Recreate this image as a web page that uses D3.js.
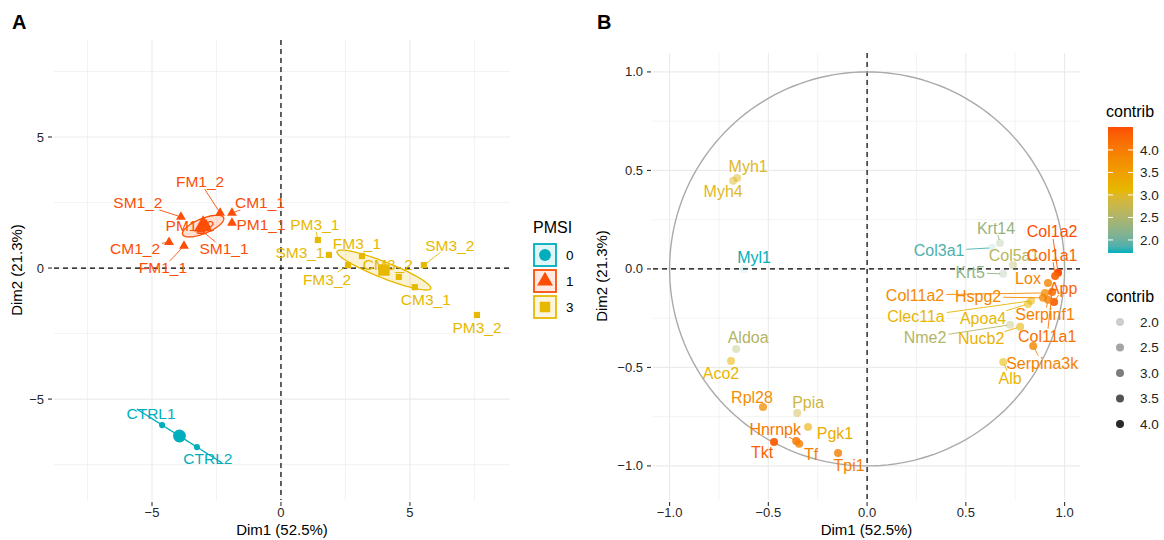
<!DOCTYPE html>
<html>
<head>
<meta charset="utf-8">
<title>PCA individuals / variables</title>
<script src="https://cdn.jsdelivr.net/npm/d3@7"></script>
<style>
body{margin:0;background:#fff;font-family:"Liberation Sans",Arial,Helvetica,sans-serif}
</style>
</head>
<body>
<svg id=chart width=1164 height=540></svg>
<script>
// ---- panel A : individuals ----
var sampleNames=["CTRL1","CTRL2","FM1_1","FM1_2","CM1_1","CM1_2","PM1_1","PM1_2","SM1_1","SM1_2",
                 "PM3_1","SM3_1","FM3_1","FM3_2","CM3_2","CM3_1","SM3_2","PM3_2"]
var sampleGroup=["0","0","1","1","1","1","1","1","1","1","3","3","3","3","3","3","3","3"]
var sampleDim1=[-4.61,-3.26,-3.76,-2.36,-1.90,-4.34,-1.90,-2.90,-3.10,-3.88,
                1.43,1.86,3.14,2.60,4.57,5.19,5.54,7.60]
var sampleDim2=[-5.99,-6.83,0.84,2.10,2.10,0.99,1.72,1.65,1.45,1.95,
                1.07,0.50,0.46,0.11,-0.34,-0.73,0.11,-1.79]
var groupLevels=["0","1","3"]
var ticksA=[-5,0,5]
var minorA=[-7.5,-2.5,2.5,7.5]

// ---- panel B : variables ----
var varNames=["Myh1","Myh4","Myl1","Aldoa","Aco2","Rpl28","Ppia","Pgk1","Hnrnpk","Tf","Tkt","Tpi1",
              "Krt14","Col3a1","Col5a1","Krt5","Col1a2","Col1a1","Lox","App","Col11a2","Hspg2",
              "Serpinf1","Col11a1","Clec11a","Apoa4","Nme2","Nucb2","Serpina3k","Alb"]
var varDim1=[-0.658,-0.678,-0.623,-0.663,-0.689,-0.527,-0.354,-0.299,-0.359,-0.344,-0.471,-0.147,
             0.673,0.633,0.739,0.689,0.967,0.952,0.916,0.947,0.901,0.891,
             0.916,0.937,0.830,0.815,0.724,0.775,0.841,0.689]
var varDim2=[0.462,0.447,0.000,-0.406,-0.467,-0.701,-0.731,-0.802,-0.873,-0.888,-0.878,-0.934,
             0.132,0.107,0.020,-0.025,-0.020,-0.036,-0.071,-0.168,-0.122,-0.147,
             -0.157,-0.117,-0.162,-0.178,-0.284,-0.294,-0.391,-0.472]
var varContrib=[3.0,3.0,1.71,2.55,3.15,3.75,2.85,3.3,4.05,3.95,4.35,3.95,
                2.3,1.85,2.6,2.25,4.51,4.3,3.9,4.3,3.8,3.85,
                3.95,4.15,3.15,3.1,2.55,3.2,3.9,3.15]
var ticksB=[-1,-0.5,0,0.5,1]
var minorB=[-0.75,-0.25,0.25,0.75]
var contribBreaks=[2,2.5,3,3.5,4]

// ---- styling / layout (not data) ----
var groupColors={"0":"#00AFBB","1":"#FC4E07","3":"#E7B800"}
var groupShape={"0":d3.symbolCircle,"1":d3.symbolTriangle,"3":d3.symbolSquare}
var gradCols=["#00AFBB","#E7B800","#FC4E07"]
// label offsets in px (where the repel step put them)
var shiftA={CTRL1:[-11,-11],CTRL2:[11,12],FM1_1:[-21,22],FM1_2:[-20,-31],CM1_1:[28,-10],CM1_2:[-34,6],
  PM1_1:[29,2],PM1_2:[-16,1],SM1_1:[23,19],SM1_2:[-43,-14],PM3_1:[-3,-15],SM3_1:[-29,-2],
  FM3_1:[-5,-12],FM3_2:[-21,14],CM3_2:[-11,-12],CM3_1:[11,12],SM3_2:[26,-20],PM3_2:[0,13]}
var shiftB={Myh1:[11,-11],Myh4:[-10,11],Myl1:[10,-12],Aldoa:[12,-11],Aco2:[-10,12],Rpl28:[-11,-10],
  Ppia:[11,-11],Pgk1:[27,6],Hnrnpk:[-21,-11],Tf:[12,11],Tkt:[-12,11],Tpi1:[11,12],
  Krt14:[-4,-15],Col3a1:[-53,3],Col5a1:[1,-10],Krt5:[-33,-1],Col1a2:[-6,-41],Col1a1:[-3,-21],
  Lox:[-20,-5],App:[9,-14],Col11a2:[-130,2],Hspg2:[-65,-1],Serpinf1:[-3,15],Col11a1:[-5,44],
  Clec11a:[-115,16],Apoa4:[-45,14],Nme2:[-85,13],Nucb2:[-39,12],"Serpina3k":[9,17],Alb:[7,16]}

var svg=d3.select("#chart")
var grid="#EBEBEB"

function drawFrame(g,x,y,ticks,minor,fmt){
  var xr=x.range(), yr=y.range()
  minor.forEach(function(v){
    g.append("line").attr("x1",x(v)).attr("x2",x(v)).attr("y1",yr[0]).attr("y2",yr[1]).attr("stroke",grid).attr("stroke-width",0.6)
    g.append("line").attr("y1",y(v)).attr("y2",y(v)).attr("x1",xr[0]).attr("x2",xr[1]).attr("stroke",grid).attr("stroke-width",0.6)
  })
  ticks.forEach(function(v){
    g.append("line").attr("x1",x(v)).attr("x2",x(v)).attr("y1",yr[0]).attr("y2",yr[1]).attr("stroke",grid).attr("stroke-width",1.1)
    g.append("line").attr("y1",y(v)).attr("y2",y(v)).attr("x1",xr[0]).attr("x2",xr[1]).attr("stroke",grid).attr("stroke-width",1.1)
    // ticks + labels
    g.append("line").attr("x1",xr[0]-6).attr("x2",xr[0]-2).attr("y1",y(v)).attr("y2",y(v)).attr("stroke","#333").attr("stroke-width",1.1)
    g.append("text").attr("x",xr[0]-10).attr("y",y(v)).attr("dy","0.35em").attr("text-anchor","end")
      .attr("font-size",13).attr("fill","#262626").text(fmt(v))
    g.append("line").attr("y1",yr[1]+2).attr("y2",yr[1]+6).attr("x1",x(v)).attr("x2",x(v)).attr("stroke","#333").attr("stroke-width",1.1)
    g.append("text").attr("x",x(v)).attr("y",yr[1]+17).attr("text-anchor","middle")
      .attr("font-size",13).attr("fill","#262626").text(fmt(v))
  })
  // dashed zero lines
  g.append("line").attr("x1",x(0)).attr("x2",x(0)).attr("y1",yr[0]).attr("y2",yr[1]).attr("stroke","#000").attr("stroke-width",1.2).attr("stroke-dasharray","5,4")
  g.append("line").attr("y1",y(0)).attr("y2",y(0)).attr("x1",xr[0]).attr("x2",xr[1]).attr("stroke","#000").attr("stroke-width",1.2).attr("stroke-dasharray","5,4")
  g.append("text").attr("x",(xr[0]+xr[1])/2).attr("y",yr[1]+35).attr("text-anchor","middle").attr("font-size",15).text("Dim1 (52.5%)")
}

// text label with a leader segment when it sits away from its point
function repel(segG,txtG,px,py,name,color,size,shift){
  var lx=px+shift[0], ly=py+shift[1]
  var t=txtG.append("text").attr("x",lx).attr("y",ly).attr("dy","0.35em").attr("text-anchor","middle")
    .attr("font-size",size).attr("fill",color).text(name)
  var hw=t.node().getComputedTextLength()/2+2, hh=size*0.45
  var vx=px-lx, vy=py-ly
  var k=Math.min(vx?hw/Math.abs(vx):1e9, vy?hh/Math.abs(vy):1e9)
  if(k>=1) return
  var sx=lx+k*vx, sy=ly+k*vy
  var len=Math.hypot(px-sx,py-sy)
  if(len<7) return
  var ex=px-(px-sx)/len*3, ey=py-(py-sy)/len*3
  segG.append("line").attr("x1",sx).attr("y1",sy).attr("x2",ex).attr("y2",ey).attr("stroke",color).attr("stroke-width",0.9)
}

// 95% confidence ellipse around a group mean
function confEllipse(xs,ys){
  var n=xs.length, mx=d3.mean(xs), my=d3.mean(ys)
  var a=0,b=0,c=0
  for(var i=0;i<n;i++){a+=(xs[i]-mx)*(xs[i]-mx);b+=(ys[i]-my)*(ys[i]-my);c+=(xs[i]-mx)*(ys[i]-my)}
  a=a/(n-1)/n; b=b/(n-1)/n; c=c/(n-1)/n
  var tr=(a+b)/2, d=Math.sqrt(Math.max(0,(a-b)*(a-b)/4+c*c))
  var l1=tr+d, l2=Math.max(0,tr-d)
  var th=0.5*Math.atan2(2*c,a-b)
  var q=5.991, r1=Math.sqrt(q*l1), r2=Math.sqrt(q*l2)
  var pts=[]
  for(var s=0;s<=100;s++){
    var t=s/100*2*Math.PI
    var ex=r1*Math.cos(t), ey=r2*Math.sin(t)
    pts.push([mx+ex*Math.cos(th)-ey*Math.sin(th), my+ex*Math.sin(th)+ey*Math.cos(th)])
  }
  return {pts:pts,cx:mx,cy:my}
}

var fmtA=function(v){return v<0?"\u2212"+Math.abs(v):""+v}
var fmtB=function(v){return v<0?"\u2212"+d3.format(".1f")(-v):d3.format(".1f")(v)}

// ================= panel A =================
var xA=d3.scaleLinear().domain([-8.8,8.88]).range([54,510])
var yA=d3.scaleLinear().domain([8.70,-8.85]).range([40,500])
var gA=svg.append("g")
drawFrame(gA,xA,yA,ticksA,minorA,fmtA)
gA.append("text").attr("transform","translate(22,270) rotate(-90)").attr("text-anchor","middle").attr("font-size",15).text("Dim2 (21.3%)")

var lineA=d3.line().x(function(d){return xA(d[0])}).y(function(d){return yA(d[1])})
var ptsG=gA.append("g"), segA=gA.append("g"), txtA=gA.append("g")
groupLevels.forEach(function(gr){
  var xs=[],ys=[]
  sampleNames.forEach(function(n,i){ if(sampleGroup[i]==gr){xs.push(sampleDim1[i]);ys.push(sampleDim2[i])} })
  var el=confEllipse(xs,ys)
  ptsG.append("path").attr("d",lineA(el.pts)+"Z").attr("fill",groupColors[gr]).attr("fill-opacity",0.18)
    .attr("stroke",groupColors[gr]).attr("stroke-width",1.3)
  ptsG.append("path").attr("transform","translate("+xA(el.cx)+","+yA(el.cy)+")")
    .attr("d",d3.symbol().type(groupShape[gr]).size(gr=="1"?150:130)()).attr("fill",groupColors[gr])
})
sampleNames.forEach(function(n,i){
  var gr=sampleGroup[i], px=xA(sampleDim1[i]), py=yA(sampleDim2[i])
  ptsG.append("path").attr("transform","translate("+px+","+py+")")
    .attr("d",d3.symbol().type(groupShape[gr]).size(gr=="0"?30:(gr=="1"?42:38))()).attr("fill",groupColors[gr])
  repel(segA,txtA,px,py,n,groupColors[gr],15.5,shiftA[n])
})

// legend PMSI
var lg=svg.append("g")
lg.append("text").attr("x",533).attr("y",233).attr("font-size",16).text("PMSI")
groupLevels.forEach(function(gr,i){
  var y0=243+i*26
  lg.append("rect").attr("x",534).attr("y",y0+1).attr("width",22).attr("height",22)
    .attr("fill",groupColors[gr]).attr("fill-opacity",0.12).attr("stroke",groupColors[gr]).attr("stroke-width",1.8)
  lg.append("path").attr("transform","translate(545,"+(y0+12)+")")
    .attr("d",d3.symbol().type(groupShape[gr]).size(110)()).attr("fill",groupColors[gr])
  lg.append("text").attr("x",566).attr("y",y0+12).attr("dy","0.35em").attr("font-size",13.5).text(gr)
})

// ================= panel B =================
var xB=d3.scaleLinear().domain([-1.084,1.078]).range([653,1080])
var yB=d3.scaleLinear().domain([1.096,-1.173]).range([53,500])
var gB=svg.append("g")
drawFrame(gB,xB,yB,ticksB,minorB,fmtB)
gB.append("text").attr("transform","translate(607,276) rotate(-90)").attr("text-anchor","middle").attr("font-size",15).text("Dim2 (21.3%)")

var circ=d3.range(0,361,2).map(function(a){return [Math.cos(a*Math.PI/180),Math.sin(a*Math.PI/180)]})
gB.append("path").attr("d",d3.line().x(function(d){return xB(d[0])}).y(function(d){return yB(d[1])})(circ))
  .attr("fill","none").attr("stroke","#AAAAAA").attr("stroke-width",1.4)

var cExt=d3.extent(varContrib)
var colScale=d3.scaleLinear().domain([cExt[0],(cExt[0]+cExt[1])/2,cExt[1]]).range(gradCols).interpolate(d3.interpolateLab)
var alphaScale=d3.scaleLinear().domain(cExt).range([0.1,1])

var ptB=gB.append("g"), segB=gB.append("g"), txtB=gB.append("g")
varNames.forEach(function(n,i){
  var px=xB(varDim1[i]), py=yB(varDim2[i]), col=colScale(varContrib[i])
  ptB.append("circle").attr("cx",px).attr("cy",py).attr("r",4).attr("fill",col).attr("fill-opacity",alphaScale(varContrib[i]))
  repel(segB,txtB,px,py,n,col,16,shiftB[n])
})

// colourbar legend
var defs=svg.append("defs")
var lgGrad=defs.append("linearGradient").attr("id","cbar").attr("x1",0).attr("x2",0).attr("y1",1).attr("y2",0)
d3.range(0,21).forEach(function(k){
  var v=cExt[0]+(cExt[1]-cExt[0])*k/20
  lgGrad.append("stop").attr("offset",k/20).attr("stop-color",colScale(v))
})
var cb=svg.append("g")
var cbY=d3.scaleLinear().domain(cExt).range([253,127])
cb.append("text").attr("x",1106).attr("y",117).attr("font-size",16).text("contrib")
cb.append("rect").attr("x",1108).attr("y",127).attr("width",25).attr("height",126).attr("fill","url(#cbar)")
contribBreaks.forEach(function(v){
  cb.append("line").attr("x1",1108).attr("x2",1113).attr("y1",cbY(v)).attr("y2",cbY(v)).attr("stroke","#fff").attr("stroke-width",1)
  cb.append("line").attr("x1",1128).attr("x2",1133).attr("y1",cbY(v)).attr("y2",cbY(v)).attr("stroke","#fff").attr("stroke-width",1)
  cb.append("text").attr("x",1140).attr("y",cbY(v)).attr("dy","0.35em").attr("font-size",13.5).attr("fill","#222").text(d3.format(".1f")(v))
})

// alpha legend
var al=svg.append("g")
al.append("text").attr("x",1106).attr("y",302).attr("font-size",16).text("contrib")
contribBreaks.forEach(function(v,i){
  var y0=322+i*25.5
  al.append("circle").attr("cx",1120).attr("cy",y0).attr("r",4).attr("fill","#000").attr("fill-opacity",alphaScale(v))
  al.append("text").attr("x",1140).attr("y",y0).attr("dy","0.35em").attr("font-size",13.5).attr("fill","#222").text(d3.format(".1f")(v))
})

// panel tags
svg.append("text").attr("x",12).attr("y",29).attr("font-size",20).attr("font-weight","bold").text("A")
svg.append("text").attr("x",597).attr("y",29).attr("font-size",20).attr("font-weight","bold").text("B")
</script>
</body>
</html>
